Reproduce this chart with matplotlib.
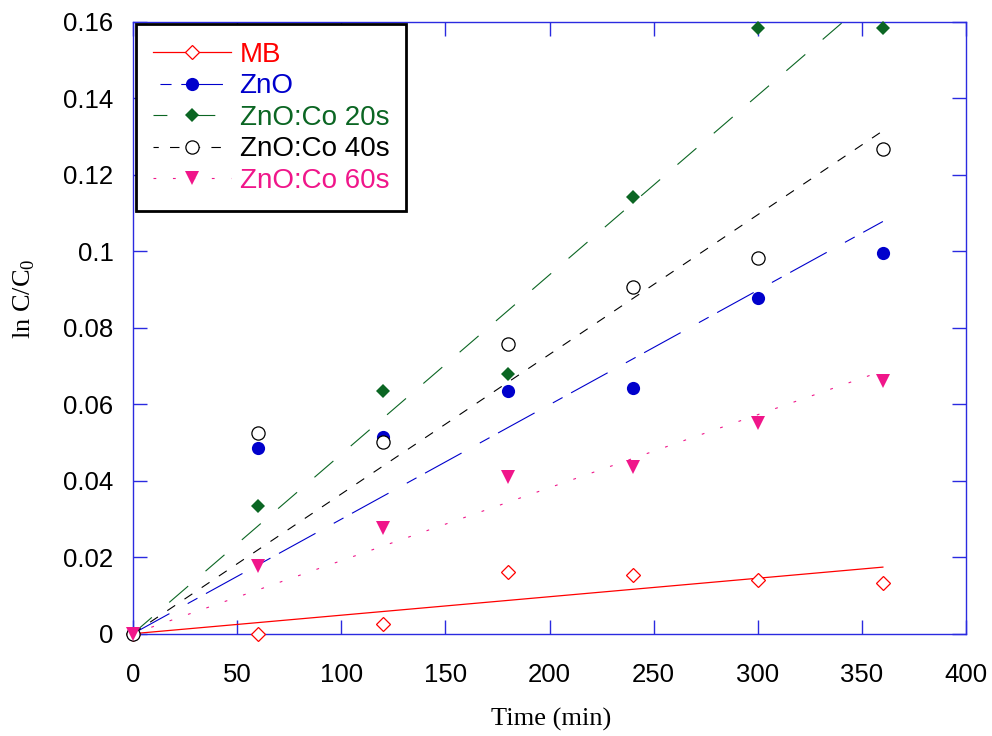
import numpy as np
import matplotlib
matplotlib.use("Agg")
import matplotlib.pyplot as plt
from matplotlib.lines import Line2D

plt.rcParams["font.family"] = ["Liberation Sans", "DejaVu Sans"]
plt.rcParams["lines.scale_dashes"] = False
plt.rcParams["mathtext.fontset"] = "custom"
plt.rcParams["mathtext.rm"] = "Liberation Serif"

AXIS_BLUE = "#2a2ae0"

time_min = [0, 60, 120, 180, 240, 300, 360]

mb = [0, 0.0, 0.0025, 0.0162, 0.0153, 0.0140, 0.0132]
zno = [0, 0.0485, 0.0513, 0.0635, 0.0642, 0.0877, 0.0996]
znoco_20 = [0, 0.0335, 0.0635, 0.0678, 0.1142, 0.1583, 0.1583]
znoco_40 = [0, 0.0524, 0.0500, 0.0757, 0.0907, 0.0983, 0.1267]
znoco_60 = [0, 0.0177, 0.0276, 0.0410, 0.0437, 0.0550, 0.0661]

labels = ["MB", "ZnO", "ZnO:Co 20s", "ZnO:Co 40s", "ZnO:Co 60s"]
colors = ["#ff0000", "#0000cc", "#0b6623", "#000000", "#f0168a"]

# marker, size, filled, dash pattern of the fitted line (points)
styles = [
    ("D", 7.0, False, None),
    ("o", 9.5, True, (0, (30, 15, 8, 7))),
    ("D", 7.4, True, (0, (18, 16.5))),
    ("o", 9.5, False, (0, (6.8, 8.1))),
    ("v", 10.0, True, (0, (2, 12))),
]
# dash phase of the legend samples
legend_dash = [None, (40, (30, 15, 8, 7)), (8, (18, 16.5)), (3, (6.8, 8.1)), (0, (2, 12))]

series = [mb, zno, znoco_20, znoco_40, znoco_60]

fig = plt.figure(figsize=(9.92, 7.36), dpi=100)
ax = fig.add_axes([0.134, 0.139, 0.840, 0.8315])

x = np.array(time_min, dtype=float)
handles = []
for y, lab, col, (mk, ms, filled, dash), ldash in zip(series, labels, colors, styles, legend_dash):
    y = np.array(y)
    # first-order fit forced through the origin
    k = np.sum(x * y) / np.sum(x * x)
    xf = np.array([0, x.max()])
    ls = "-" if dash is None else dash
    lw = 0.9 if dash is None else 0.8
    ax.plot(xf, k * xf, color=col, lw=lw, linestyle=ls)
    face = col if filled else "white"
    mew = 0.0 if filled else 0.9
    ax.plot(x, y, linestyle="none", marker=mk, ms=ms, mfc=face, mec=col,
            mew=mew, clip_on=False, zorder=3)
    handles.append(Line2D([], [], color=col, lw=lw, linestyle="-" if ldash is None else ldash,
                          marker=mk, ms=ms, mfc=face, mec=col, mew=mew))

ax.set_xlim(0, 400)
ax.set_ylim(0, 0.16)
ax.set_xticks(np.arange(0, 401, 50))
ax.set_yticks(np.arange(0, 0.161, 0.02))
ax.set_yticklabels(["0", "0.02", "0.04", "0.06", "0.08", "0.1", "0.12", "0.14", "0.16"])

for sp in ax.spines.values():
    sp.set_color(AXIS_BLUE)
    sp.set_linewidth(1.0)
ax.tick_params(axis="both", direction="in", length=10, width=1.0, color=AXIS_BLUE,
               top=True, right=True, labelsize=18.5, labelcolor="black")
ax.tick_params(axis="x", pad=21)
ax.tick_params(axis="y", pad=14)

ax.set_xlabel("Time (min)", fontfamily="Liberation Serif", fontsize=19)
ax.set_ylabel(r"ln C/C$_\mathregular{0}$", fontfamily="Liberation Serif", fontsize=19)
ax.xaxis.set_label_coords(0.502, -0.122)
ax.yaxis.set_label_coords(-0.115, 0.547)

leg = ax.legend(handles, labels, loc="upper left", bbox_to_anchor=(0.0, 1.0),
                borderaxespad=0.1, fontsize=20, numpoints=1, handlelength=2.8,
                handletextpad=0.32, labelspacing=0.2, borderpad=0.62,
                fancybox=False, framealpha=1.0, edgecolor="black")
leg.get_frame().set_linewidth(2.0)
for txt, col in zip(leg.get_texts(), colors):
    txt.set_color(col)

fig.savefig("out.png", dpi=100)
